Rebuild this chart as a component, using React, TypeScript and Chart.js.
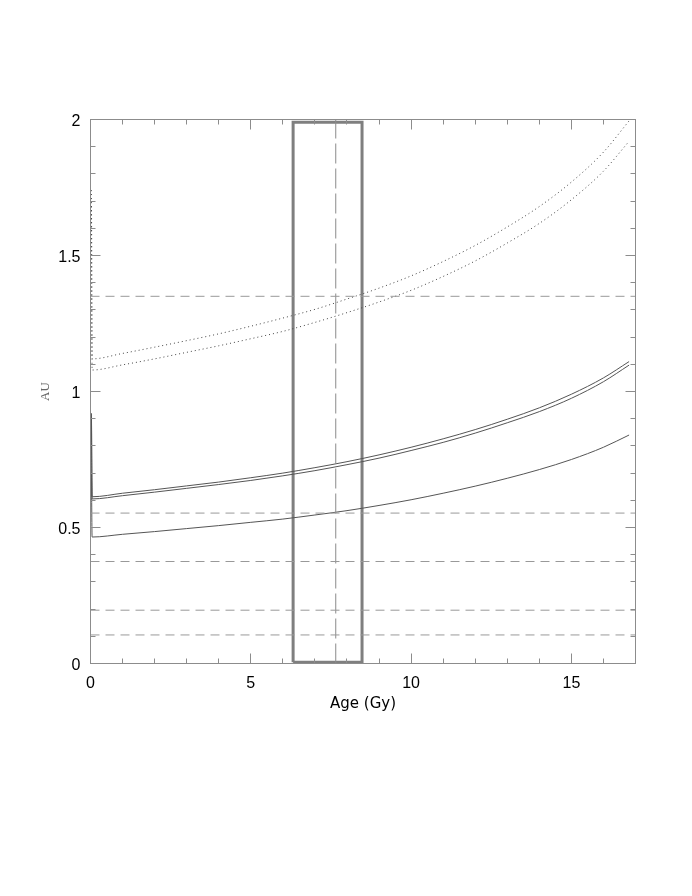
import React, { useEffect, useRef } from "react";
import { Chart, registerables } from "chart.js";

Chart.register(...registerables);

// Age axis samples (Gy)
const ageGy = [0.03, 0.05, 1, 2, 3, 4, 5, 6, 7, 8, 9, 10, 11, 12, 13, 14, 15, 16, 16.8];

// Solid tracks (AU)
const solidUpperA = [0.92, 0.613, 0.626, 0.639, 0.653, 0.667, 0.683, 0.7, 0.72, 0.742, 0.767, 0.795, 0.826, 0.86, 0.898, 0.94, 0.99, 1.05, 1.11];
const solidUpperB = [0.9, 0.605, 0.617, 0.63, 0.644, 0.658, 0.673, 0.69, 0.709, 0.731, 0.755, 0.783, 0.813, 0.847, 0.885, 0.926, 0.975, 1.036, 1.097];
const solidLower = [0.7, 0.465, 0.475, 0.485, 0.496, 0.507, 0.519, 0.531, 0.546, 0.562, 0.581, 0.602, 0.626, 0.652, 0.681, 0.713, 0.75, 0.795, 0.84];

// Dotted tracks (AU)
const dottedUpper = [1.74, 1.12, 1.14, 1.163, 1.187, 1.212, 1.24, 1.27, 1.302, 1.34, 1.38, 1.425, 1.478, 1.537, 1.605, 1.68, 1.77, 1.88, 1.995];
const dottedLower = [1.68, 1.079, 1.098, 1.12, 1.144, 1.168, 1.194, 1.221, 1.254, 1.29, 1.329, 1.372, 1.423, 1.48, 1.546, 1.618, 1.705, 1.81, 1.92];

// Horizontal reference levels (AU)
const hzLevels = [1.35, 0.553, 0.375, 0.196, 0.105];

// Age box and marker
const boxAge = [6.32, 8.47];
const boxAU = [0.005, 1.99];
const markerAge = 7.65;

// Axes
const xRange = [0, 17];
const yRange = [0, 2];
const xTickValues = [0, 5, 10, 15];
const xTickLabels = ["0", "5", "10", "15"];
const yTickValues = [0, 0.5, 1, 1.5, 2];
const yTickLabels = ["0", "0.5", "1", "1.5", "2"];
const xMinorStep = 1;
const yMinorStep = 0.1;

const toPts = (ys: number[]) => ys.map((y, i) => ({ x: ageGy[i], y }));

const framePlugin = {
  id: "frameTicks",
  afterDraw(chart: any) {
    const { ctx, chartArea } = chart;
    const { left, right, top, bottom } = chartArea;
    const xs = chart.scales.x;
    const ys = chart.scales.y;
    ctx.save();
    ctx.strokeStyle = "#8c8c8c";
    ctx.lineWidth = 1;
    ctx.strokeRect(left, top, right - left, bottom - top);
    ctx.beginPath();
    const nx = Math.round((xRange[1] - xRange[0]) / xMinorStep);
    for (let i = 0; i <= nx; i++) {
      const v = xRange[0] + i * xMinorStep;
      const p = Math.round(xs.getPixelForValue(v) - 0.5) + 0.5;
      const len = Math.abs(v % 5) < 1e-6 ? 10 : 5;
      ctx.moveTo(p, bottom);
      ctx.lineTo(p, bottom - len);
      ctx.moveTo(p, top);
      ctx.lineTo(p, top + len);
    }
    const ny = Math.round((yRange[1] - yRange[0]) / yMinorStep);
    for (let i = 0; i <= ny; i++) {
      const v = yRange[0] + i * yMinorStep;
      const p = Math.round(ys.getPixelForValue(v) - 0.5) + 0.5;
      const len = i % 5 === 0 ? 10 : 5;
      ctx.moveTo(left, p);
      ctx.lineTo(left + len, p);
      ctx.moveTo(right, p);
      ctx.lineTo(right - len, p);
    }
    ctx.stroke();
    ctx.restore();
  },
};

export default function App() {
  const ref = useRef<HTMLCanvasElement | null>(null);

  useEffect(() => {
    if (!ref.current) return;
    const lineBase = {
      pointRadius: 0,
      fill: false,
      cubicInterpolationMode: "monotone" as const,
    };
    const datasets: any[] = [];
    hzLevels.forEach((lv) => {
      datasets.push({
        data: [
          { x: xRange[0], y: lv },
          { x: xRange[1], y: lv },
        ],
        borderColor: "#999999",
        borderWidth: 1,
        borderDash: [9, 6],
        pointRadius: 0,
        tension: 0,
      });
    });
    datasets.push({
      data: [
        { x: markerAge, y: yRange[0] },
        { x: markerAge, y: yRange[1] },
      ],
      borderColor: "#8a8a8a",
      borderWidth: 1,
      borderDash: [20, 5],
      pointRadius: 0,
      tension: 0,
    });
    [solidUpperA, solidUpperB, solidLower].forEach((s) => {
      datasets.push({
        ...lineBase,
        data: toPts(s),
        borderColor: "#555555",
        borderWidth: 1,
      });
    });
    [dottedUpper, dottedLower].forEach((s) => {
      datasets.push({
        ...lineBase,
        data: toPts(s),
        borderColor: "#444444",
        borderWidth: 1,
        borderDash: [1, 3],
      });
    });
    datasets.push({
      data: [
        { x: boxAge[0], y: boxAU[0] },
        { x: boxAge[0], y: boxAU[1] },
        { x: boxAge[1], y: boxAU[1] },
        { x: boxAge[1], y: boxAU[0] },
        { x: boxAge[0], y: boxAU[0] },
      ],
      borderColor: "#7f7f7f",
      borderWidth: 3,
      borderJoinStyle: "miter",
      pointRadius: 0,
      tension: 0,
    });

    const chart = new Chart(ref.current, {
      type: "line",
      data: { datasets },
      options: {
        animation: false,
        responsive: false,
        maintainAspectRatio: false,
        devicePixelRatio: 1,
        layout: { padding: { left: 0, top: 119.5, right: 56.5, bottom: 172.5 } },
        plugins: { legend: { display: false }, tooltip: { enabled: false } },
        scales: {
          x: {
            type: "linear",
            min: xRange[0],
            max: xRange[1],
            afterBuildTicks: (s: any) => {
              s.ticks = xTickValues.map((v) => ({ value: v }));
            },
            afterFit: (s: any) => {
              s.height = 60;
            },
            grid: { display: false, drawTicks: false },
            border: { display: false },
            ticks: {
              color: "#000",
              font: { family: "Liberation Sans", size: 16 },
              padding: 10,
              maxRotation: 0,
              autoSkip: false,
              callback: (_v: any, i: number) => xTickLabels[i],
            },
            title: {
              display: true,
              text: "Age (Gy)",
              color: "#000",
              font: { family: "DejaVu Sans", size: 15 },
              padding: { top: 0, bottom: 10 },
            },
          },
          y: {
            type: "linear",
            min: yRange[0],
            max: yRange[1],
            afterBuildTicks: (s: any) => {
              s.ticks = yTickValues.map((v) => ({ value: v }));
            },
            afterFit: (s: any) => {
              s.width = 90.5;
            },
            grid: { display: false, drawTicks: false },
            border: { display: false },
            ticks: {
              color: "#000",
              font: { family: "Liberation Sans", size: 16 },
              padding: 10,
              labelOffset: 2,
              autoSkip: false,
              callback: (_v: any, i: number) => yTickLabels[i],
            },
            title: {
              display: true,
              text: "AU",
              color: "#666",
              font: { family: "Liberation Serif", size: 13 },
              padding: { top: 38, bottom: 0 },
            },
          },
        },
      },
      plugins: [framePlugin],
    });
    return () => chart.destroy();
  }, []);

  return (
    <div style={{ position: "absolute", left: 0, top: 0, width: 692, height: 896 }}>
      <canvas ref={ref} width={692} height={896} style={{ display: "block" }} />
    </div>
  );
}
